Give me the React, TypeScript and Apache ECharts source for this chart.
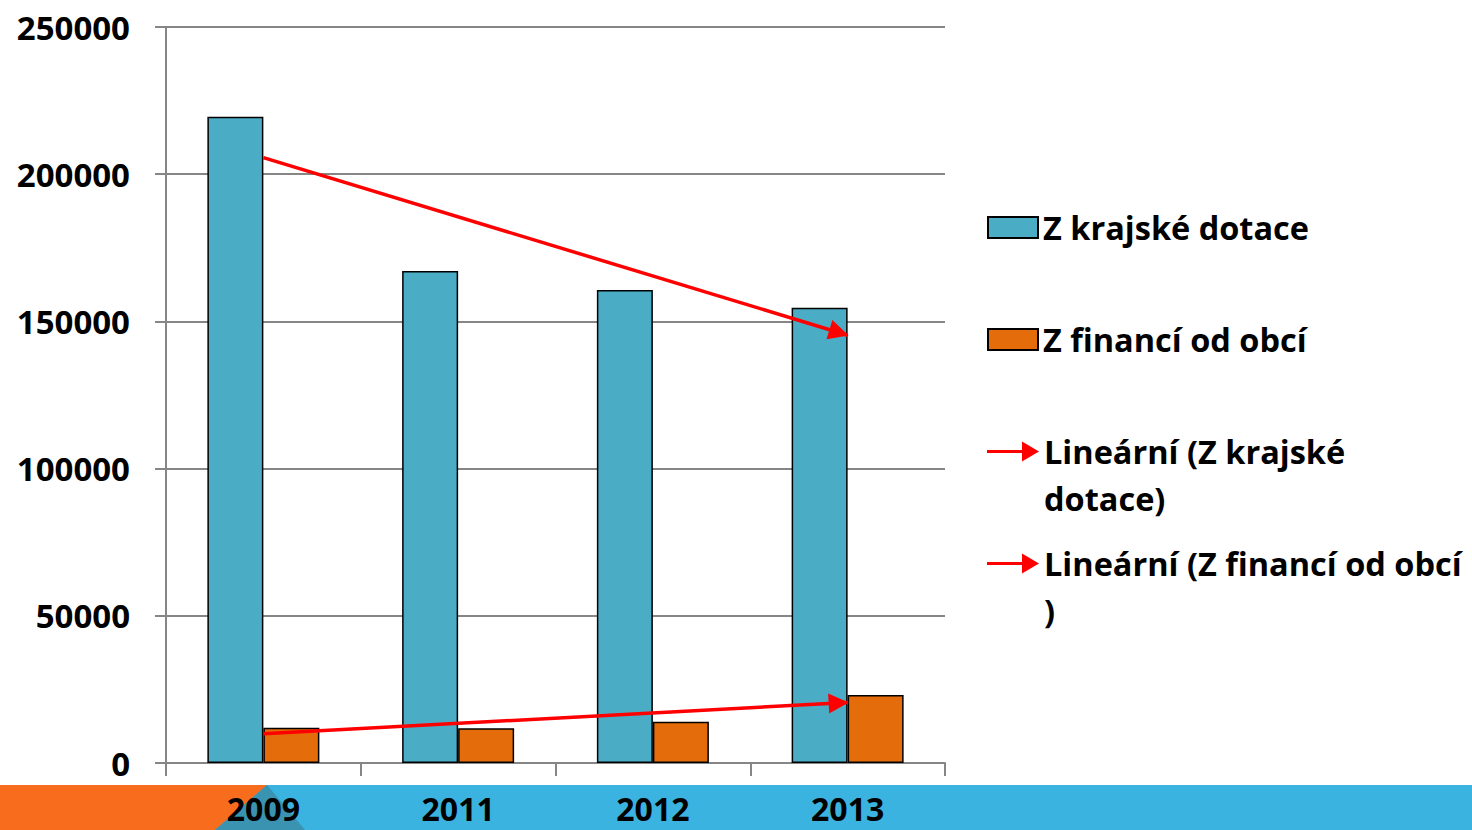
import React, { useEffect, useRef } from 'react';
import * as echarts from 'echarts';

const categories = ['2009', '2011', '2012', '2013'];
const krajskeDotace = [219500, 167100, 160700, 154600];
const financeObci = [12000, 11800, 14000, 23100];
const yMin = 0;
const yMax = 250000;
const yInterval = 50000;

const NAME_A = 'Z krajské dotace';
const NAME_B = 'Z financí od obcí';
const NAME_TA = 'Lineární (Z krajské dotace)';
const NAME_TB = 'Lineární (Z financí od obcí)';

const FONT = '"Open Sans", sans-serif';
const BLUE = '#4BACC6';
const ORANGE = '#E46C0A';
const GRID = '#868686';

function linearFitEnds(values: number[]): [number, number] {
  const n = values.length;
  const xs = values.map((_, i) => i + 1);
  const mx = xs.reduce((s, v) => s + v, 0) / n;
  const my = values.reduce((s, v) => s + v, 0) / n;
  let num = 0;
  let den = 0;
  for (let i = 0; i < n; i++) {
    num += (xs[i] - mx) * (values[i] - my);
    den += (xs[i] - mx) * (xs[i] - mx);
  }
  const b = num / den;
  const a = my - b * mx;
  return [a + b * 1, a + b * n];
}

const ARROW_ICON = 'path://M0,8.5 L37,8.5 L37,11.5 L0,11.5 Z M35,0 L52,10 L35,20 Z';

export default function App() {
  const ref = useRef<HTMLDivElement>(null);

  useEffect(() => {
    if (!ref.current) return;
    const chart = echarts.init(ref.current, undefined, { renderer: 'svg' });
    const [a1, a4] = linearFitEnds(krajskeDotace);
    const [b1, b4] = linearFitEnds(financeObci);
    const last = categories[categories.length - 1];

    const trendMarkLine = (s: number, e: number) => ({
      silent: true,
      symbol: ['none', 'triangle'],
      symbolSize: 20,
      symbolOffset: [0, [0, 9]],
      label: { show: false },
      emphasis: { disabled: true },
      lineStyle: { color: '#FF0000', width: 3.5, type: 'solid' },
      data: [[{ coord: [categories[0], s] }, { coord: [last, e] }]],
    });

    const textStyle = {
      fontFamily: FONT,
      fontWeight: 'bold',
      fontSize: 32.5,
      color: '#000',
      lineHeight: 47,
    };
    const legendBase = {
      left: 982,
      orient: 'vertical',
      selectedMode: false,
      itemGap: 0,
      textStyle,
    };

    chart.setOption({
      animation: false,
      backgroundColor: '#fff',
      graphic: [
        { type: 'rect', z: -10, shape: { x: 0, y: 785, width: 1472, height: 45 }, style: { fill: '#3AB3E0' } },
        { type: 'polygon', z: -9, shape: { points: [[0, 785], [267, 785], [215, 830], [0, 830]] }, style: { fill: '#F86C1E' } },
        { type: 'polygon', z: -9, shape: { points: [[267, 785], [305, 830], [215, 830]] }, style: { fill: '#3A93B0' } },
      ],
      grid: { left: 166, right: 527, top: 27, bottom: 67, containLabel: false },
      legend: [
        {
          ...legendBase,
          top: 199,
          itemWidth: 50,
          itemHeight: 21,
          icon: 'rect',
          data: [{ name: NAME_A }],
        },
        {
          ...legendBase,
          top: 311,
          itemWidth: 50,
          itemHeight: 21,
          icon: 'rect',
          data: [{ name: NAME_B }],
        },
        {
          ...legendBase,
          top: 376,
          itemWidth: 52,
          itemHeight: 20,
          data: [{ name: NAME_TA, icon: ARROW_ICON, itemStyle: { color: '#FF0000', borderWidth: 0 } }],
          formatter: () => '\nLineární (Z krajské\ndotace)',
        },
        {
          ...legendBase,
          top: 488,
          itemWidth: 52,
          itemHeight: 20,
          data: [{ name: NAME_TB, icon: ARROW_ICON, itemStyle: { color: '#FF0000', borderWidth: 0 } }],
          formatter: () => '\nLineární (Z financí od obcí\n)',
        },
      ],
      xAxis: {
        type: 'category',
        data: categories,
        axisLine: { show: true, lineStyle: { color: GRID, width: 2 } },
        axisTick: { show: true, length: 13, lineStyle: { color: GRID, width: 2 } },
        axisLabel: {
          margin: 31,
          fontFamily: FONT,
          fontWeight: 'bold',
          fontSize: 32,
          lineHeight: 28,
          color: '#000',
        },
      },
      yAxis: {
        type: 'value',
        min: yMin,
        max: yMax,
        interval: yInterval,
        axisLine: { show: true, lineStyle: { color: GRID, width: 2 } },
        axisTick: { show: true, length: 11, lineStyle: { color: GRID, width: 2 } },
        splitLine: { show: true, lineStyle: { color: GRID, width: 2 } },
        axisLabel: {
          margin: 36,
          fontFamily: FONT,
          fontWeight: 'bold',
          fontSize: 33,
          color: '#000',
          formatter: (v: number) => String(v),
        },
      },
      series: [
        {
          name: NAME_A,
          type: 'bar',
          data: krajskeDotace,
          barWidth: 56,
          barGap: '0%',
          itemStyle: { color: BLUE, borderColor: '#000', borderWidth: 1.5 },
          emphasis: { disabled: true },
        },
        {
          name: NAME_B,
          type: 'bar',
          data: financeObci,
          barWidth: 56,
          barGap: '0%',
          itemStyle: { color: ORANGE, borderColor: '#000', borderWidth: 1.5 },
          emphasis: { disabled: true },
        },
        {
          name: NAME_TA,
          type: 'line',
          data: [],
          itemStyle: { color: '#FF0000' },
          lineStyle: { color: '#FF0000' },
          markLine: trendMarkLine(a1, a4),
        },
        {
          name: NAME_TB,
          type: 'line',
          data: [],
          itemStyle: { color: '#FF0000' },
          lineStyle: { color: '#FF0000' },
          markLine: trendMarkLine(b1, b4),
        },
      ],
    });
    return () => chart.dispose();
  }, []);

  return (
    <div
      ref={ref}
      style={{ position: 'fixed', left: 0, top: 0, width: 1472, height: 830 }}
    />
  );
}
